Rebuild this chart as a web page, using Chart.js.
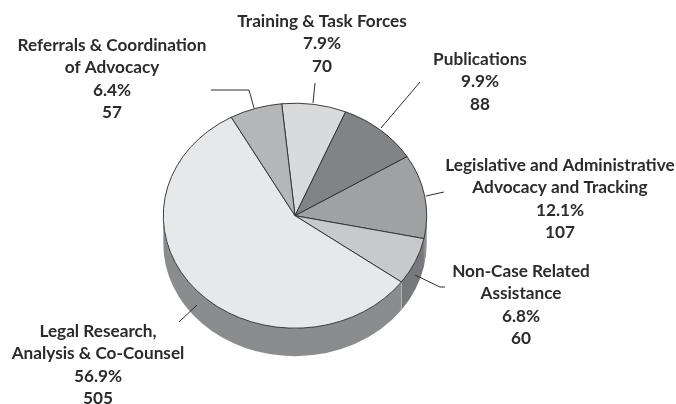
<!DOCTYPE html>
<html>
<head>
<meta charset="utf-8">
<style>
    html, body { margin: 0; padding: 0; background: #fff; }
    canvas { display: block; }
</style>
<script src="https://cdn.jsdelivr.net/npm/chart.js@4"></script>
</head>
<body>
<canvas id="pie" width="676" height="404"></canvas>
<script>
const categories = [
    ['Training & Task Forces'],
    ['Publications'],
    ['Legislative and Administrative', 'Advocacy and Tracking'],
    ['Non-Case Related', 'Assistance'],
    ['Legal Research,', 'Analysis & Co-Counsel'],
    ['Referrals & Coordination', 'of Advocacy'],
];
const values = [70, 88, 107, 60, 505, 57];
const percents = ['7.9%', '9.9%', '12.1%', '6.8%', '56.9%', '6.4%'];
const topColors = ['#d9dadc', '#828386', '#a0a1a3', '#c8c9cb', '#e7e8ea', '#b5b6b8'];
const wallColors = ['#77787b', '#77787b', '#8f9092', '#77787b', '#8b8c8e', '#8b8c8e'];

// label anchor: centre x, first baseline
const labelAnchors = [[322, 27], [480, 65], [560, 171], [521, 277], [98, 337], [112, 51]];
const leaders = [
    [[313, 103], [315, 83]],
    [[381, 128], [420, 82]],
    [[426, 196], [444, 192]],
    [[415, 275], [440, 287], [445, 287]],
    [[197, 305], [179, 322]],
    [[254, 108], [249, 90], [211, 90]],
];

const squash = 112.5 / 131.7;
const depth = 28;
const lineHeight = 22.3;

const piePerspective = {
    id: 'piePerspective',
    beforeDatasetsDraw(chart) {
        const ctx = chart.ctx;
        chart.getDatasetMeta(0).data.forEach((arc, i) => {
            const { x, y, startAngle, endAngle, outerRadius } = arc.getProps(['x', 'y', 'startAngle', 'endAngle', 'outerRadius']);
            const ry = outerRadius * squash;
            // only the front half of the rim shows
            [0, Math.PI * 2].forEach((turn) => {
                const a = Math.max(startAngle, turn);
                const b = Math.min(endAngle, turn + Math.PI);
                if (b <= a) return;
                ctx.beginPath();
                ctx.ellipse(x, y, outerRadius, ry, 0, a, b);
                ctx.ellipse(x, y + depth, outerRadius, ry, 0, b, a, true);
                ctx.closePath();
                ctx.fillStyle = wallColors[i];
                ctx.fill();
                // pale seam on the rim between slices
                if (i === 3) {
                    ctx.beginPath();
                    ctx.moveTo(x + outerRadius * Math.cos(b), y + ry * Math.sin(b));
                    ctx.lineTo(x + outerRadius * Math.cos(b), y + ry * Math.sin(b) + depth);
                    ctx.strokeStyle = '#d4d5d7';
                    ctx.lineWidth = 1;
                    ctx.stroke();
                }
            });
        });
        const c = chart.getDatasetMeta(0).data[0];
        ctx.save();
        ctx.translate(c.x, c.y);
        ctx.scale(1, squash);
        ctx.translate(-c.x, -c.y);
    },
    afterDatasetsDraw(chart) {
        chart.ctx.restore();
    },
    afterDraw(chart) {
        const ctx = chart.ctx;
        ctx.save();
        ctx.strokeStyle = '#2e2e2e';
        ctx.lineWidth = 1;
        leaders.forEach((pts) => {
            ctx.beginPath();
            pts.forEach(([x, y], i) => (i ? ctx.lineTo(x, y) : ctx.moveTo(x, y)));
            ctx.stroke();
        });
        ctx.fillStyle = '#2b2b2d';
        ctx.font = '700 17.2px Lato, sans-serif';
        ctx.textAlign = 'center';
        categories.forEach((lines, i) => {
            const [x, y] = labelAnchors[i];
            [...lines, percents[i], String(values[i])].forEach((text, j) => {
                ctx.fillText(text, x, y + j * lineHeight);
            });
        });
        ctx.restore();
    },
};

new Chart(document.getElementById('pie').getContext('2d'), {
    type: 'pie',
    data: {
        labels: categories.map((lines) => lines.join(' ')),
        datasets: [{
            data: values,
            backgroundColor: topColors,
            borderColor: '#2e2e30',
            borderWidth: 1,
            radius: 131.7,
            rotation: -5.8,
        }],
    },
    options: {
        responsive: false,
        animation: false,
        layout: {
            padding: { left: 0, right: 86, top: 27.4, bottom: 0 },
        },
        plugins: {
            legend: { display: false },
            tooltip: { enabled: false },
        },
    },
    plugins: [piePerspective],
});
</script>
</body>
</html>
